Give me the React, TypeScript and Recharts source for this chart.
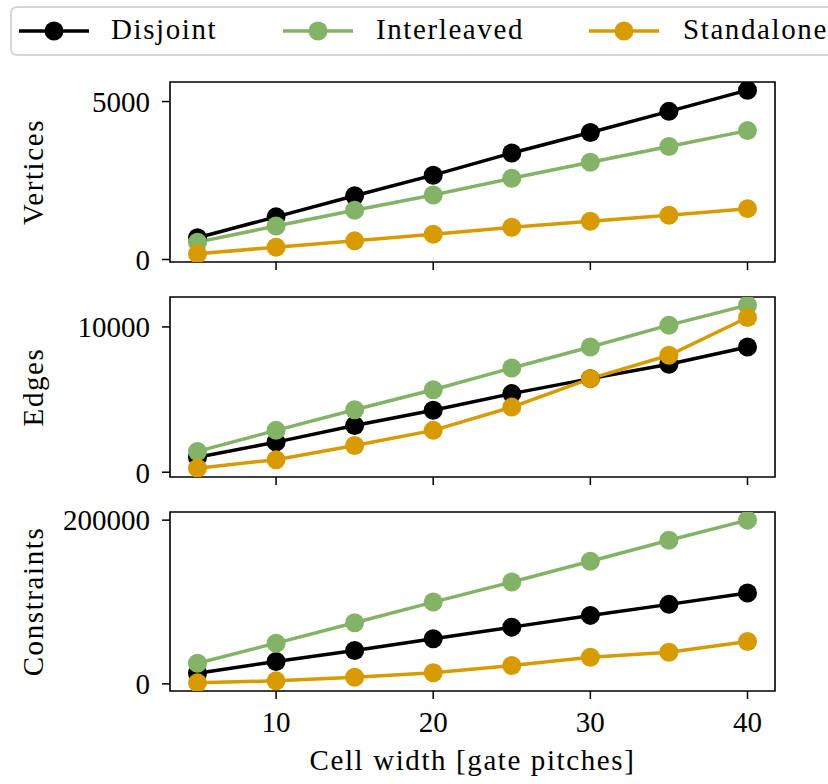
import { Line, LineChart, ReferenceArea, XAxis, YAxis } from "recharts";

// cell width [gate pitches]
const cellWidths = [5, 10, 15, 20, 25, 30, 35, 40];

const verticesDisjoint = [690, 1350, 2020, 2670, 3370, 4020, 4690, 5360];
const verticesInterleaved = [550, 1060, 1560, 2040, 2570, 3080, 3580, 4080];
const verticesStandalone = [180, 390, 590, 800, 1020, 1210, 1400, 1610];

const edgesDisjoint = [1030, 2070, 3220, 4260, 5410, 6440, 7430, 8620];
const edgesInterleaved = [1430, 2880, 4300, 5680, 7170, 8620, 10120, 11500];
const edgesStandalone = [280, 860, 1840, 2880, 4480, 6440, 8050, 10650];

const constraintsDisjoint = [12980, 27300, 40770, 55100, 69300, 83630, 97100, 110940];
const constraintsInterleaved = [25220, 49700, 74690, 99910, 124400, 149750, 175460, 200000];
const constraintsStandalone = [1220, 3670, 8080, 13470, 22410, 32570, 38690, 51790];

const seriesNames = ["Disjoint", "Interleaved", "Standalone"];
const seriesKeys = ["disjoint", "interleaved", "standalone"];
const seriesColors = ["#000000", "#82b366", "#d79b00"];

const xTicks = [10, 20, 30, 40];
const xDomain = [3.25, 41.75];
const xLabel = "Cell width [gate pitches]";

const FONT = '"Liberation Serif", "Times New Roman", serif';
const FONT_SIZE = 29;
const WORD_SPACING = 1.6; // widen Times a bit towards Computer Modern
const WIDTH = 828;
const PLOT_RIGHT_PAD = 53;
const Y_AXIS_W = 170;

function toRows(d: number[], i: number[], s: number[]) {
  return cellWidths.map((w, k) => ({ w, disjoint: d[k], interleaved: i[k], standalone: s[k] }));
}

const panels = [
  {
    label: "Vertices",
    rows: toRows(verticesDisjoint, verticesInterleaved, verticesStandalone),
    domain: [-79, 5619],
    ticks: [0, 5000],
    top: 62,
    plotH: 180,
    xH: 20,
    last: false,
  },
  {
    label: "Edges",
    rows: toRows(edgesDisjoint, edgesInterleaved, edgesStandalone),
    domain: [-330, 12060],
    ticks: [0, 10000],
    top: 277,
    plotH: 180,
    xH: 20,
    last: false,
  },
  {
    label: "Constraints",
    rows: toRows(constraintsDisjoint, constraintsInterleaved, constraintsStandalone),
    domain: [-8720, 209940],
    ticks: [0, 200000],
    top: 492,
    plotH: 179,
    xH: 93,
    last: true,
  },
];

function yLabel(text: string) {
  return (props: any) => {
    const vb = props.viewBox || {};
    const cx = 43;
    const cy = vb.y + vb.height / 2;
    return (
      <text
        x={cx}
        y={cy}
        transform={`rotate(-90 ${cx} ${cy})`}
        textAnchor="middle"
        fill="#000"
        fontSize={FONT_SIZE}
        fontFamily={FONT}
        letterSpacing={WORD_SPACING}
      >
        {text}
      </text>
    );
  };
}

// baseline sits 14px above the bottom of the x axis band
function xAxisLabel(props: any) {
  const vb = props.viewBox || {};
  return (
    <text
      x={vb.x + vb.width / 2}
      y={vb.y + vb.height - 14}
      textAnchor="middle"
      fill="#000"
      fontSize={FONT_SIZE}
      fontFamily={FONT}
      letterSpacing={WORD_SPACING}
    >
      {xLabel}
    </text>
  );
}

function Panel({ p }: { p: (typeof panels)[number] }) {
  const height = 20 + p.plotH + p.xH;
  const tickStyle = { fill: "#000", fontSize: FONT_SIZE, fontFamily: FONT };
  return (
    <div style={{ position: "absolute", left: 0, top: p.top }}>
      <LineChart
        width={WIDTH}
        height={height}
        data={p.rows}
        margin={{ top: 20, right: PLOT_RIGHT_PAD, bottom: 0, left: 0 }}
      >
        <XAxis
          type="number"
          dataKey="w"
          domain={xDomain}
          ticks={xTicks}
          allowDataOverflow
          height={p.xH}
          axisLine={false}
          tickLine={{ stroke: "#000", strokeWidth: 1.5 }}
          tickSize={8}
          tickMargin={12}
          tick={p.last ? tickStyle : () => <g />}
          label={p.last ? xAxisLabel : undefined}
        />
        <YAxis
          type="number"
          domain={p.domain}
          ticks={p.ticks}
          allowDataOverflow
          width={Y_AXIS_W}
          axisLine={false}
          tickLine={{ stroke: "#000", strokeWidth: 1.5 }}
          tickSize={8}
          tickMargin={12}
          tick={tickStyle}
          label={yLabel(p.label)}
        />
        <ReferenceArea
          x1={xDomain[0]}
          x2={xDomain[1]}
          y1={p.domain[0]}
          y2={p.domain[1]}
          fill="none"
          stroke="#000"
          strokeWidth={1.6}
        />
        {seriesKeys.map((k, i) => (
          <Line
            key={k}
            type="linear"
            dataKey={k}
            stroke={seriesColors[i]}
            strokeWidth={3.5}
            dot={{ r: 9.5, fill: seriesColors[i], stroke: "none" }}
            activeDot={false}
            isAnimationActive={false}
          />
        ))}
      </LineChart>
    </div>
  );
}

// left edges of legend entries (icon start, text start)
const legendIconX = [19, 283, 589];
const legendTextX = [111, 376, 683];

function Legend() {
  return (
    <div
      style={{
        position: "absolute",
        left: 10,
        top: 6,
        width: 840,
        height: 46,
        border: "2px solid #d6d6d6",
        borderRadius: 7,
        background: "#fff",
      }}
    >
      {seriesNames.map((name, i) => (
        <div key={name}>
          <svg
            width={70}
            height={24}
            style={{ position: "absolute", left: legendIconX[i] - 12, top: 11 }}
          >
            <line x1={0} y1={12} x2={70} y2={12} stroke={seriesColors[i]} strokeWidth={3.5} />
            <circle cx={35} cy={12} r={9.5} fill={seriesColors[i]} />
          </svg>
          <span
            style={{
              position: "absolute",
              left: legendTextX[i] - 12,
              top: 4,
              fontFamily: FONT,
              fontSize: FONT_SIZE,
              letterSpacing: WORD_SPACING,
              lineHeight: "34px",
              color: "#000",
              whiteSpace: "nowrap",
            }}
          >
            {name}
          </span>
        </div>
      ))}
    </div>
  );
}

export default function App() {
  return (
    <div
      style={{
        position: "absolute",
        left: 0,
        top: 0,
        width: WIDTH,
        height: 784,
        overflow: "hidden",
        background: "#fff",
      }}
    >
      {panels.map((p) => (
        <Panel key={p.label} p={p} />
      ))}
      <Legend />
    </div>
  );
}
